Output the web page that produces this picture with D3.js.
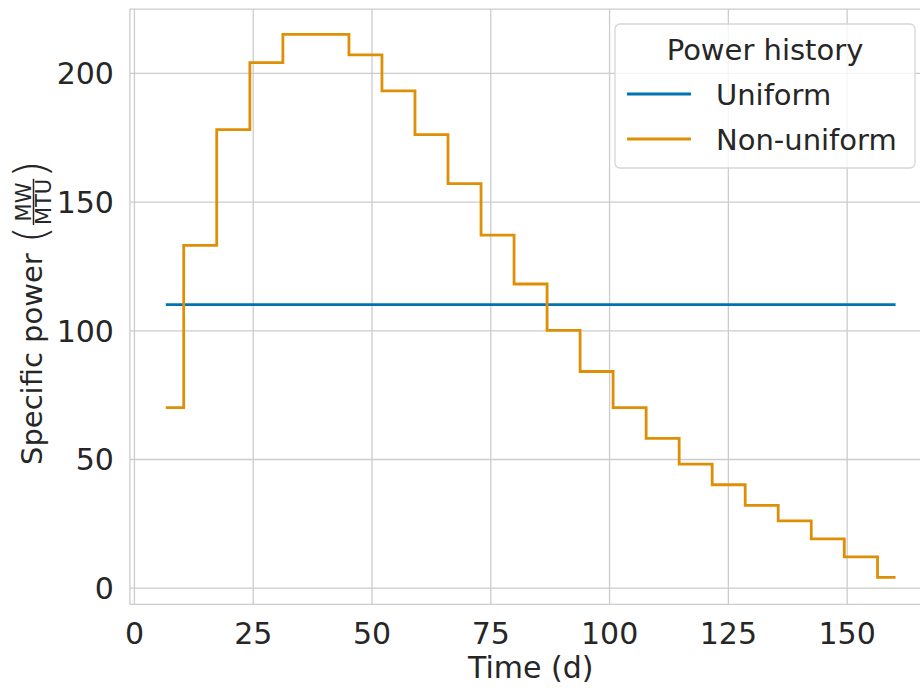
<!DOCTYPE html>
<html>
<head>
<meta charset="utf-8">
<script src="https://cdn.jsdelivr.net/npm/d3@7"></script>
<style>
  body { margin: 0; background: #fff; }
  svg { display: block; font-family: "DejaVu Sans", sans-serif; }
</style>
</head>
<body>
<svg id="chart" width="920" height="690"></svg>
<script>
// time points (d) and specific power (MW/MTU)
var timeDays = [7.0, 13.95, 20.9, 27.9, 34.8, 41.8, 48.7, 55.7, 62.6, 69.6, 76.5, 83.5,
	90.4, 97.4, 104.3, 111.3, 118.2, 125.2, 132.1, 139.1, 146.0, 153.0, 160.0];
var uniformPower = [110, 110, 110, 110, 110, 110, 110, 110, 110, 110, 110, 110,
	110, 110, 110, 110, 110, 110, 110, 110, 110, 110, 110];
var nonUniformPower = [70, 133, 178, 204, 215, 215, 207, 193, 176, 157, 137, 118,
	100, 84, 70, 58, 48, 40, 32, 26, 19, 12, 4];
var seriesNames = ["Uniform", "Non-uniform"];
var seriesColors = ["#0173b2", "#de8f05"];
var xTicks = [0, 25, 50, 75, 100, 125, 150];
var yTicks = [0, 50, 100, 150, 200];

var svg = d3.select("#chart");
var textColor = "#262626",
	gridColor = "#cccccc";

// plot box runs past the right edge of the picture, like the reference
var x = d3.scaleLinear().domain([-0.85, 167.9]).range([129.9, 931.7]);
var y = d3.scaleLinear().domain([-6.45, 224.8]).range([604.3, 9.1]);

svg.append("clipPath").attr("id", "plotclip")
	.append("rect")
	.attr("x", x.range()[0]).attr("y", y.range()[1])
	.attr("width", x.range()[1] - x.range()[0])
	.attr("height", y.range()[0] - y.range()[1]);

// grid
var xAxis = svg.append("g")
	.attr("transform", "translate(0," + y.range()[0] + ")")
	.call(d3.axisBottom(x).tickValues(xTicks).tickSize(-(y.range()[0] - y.range()[1])).tickPadding(40));
var yAxis = svg.append("g")
	.attr("transform", "translate(" + x.range()[0] + ",0)")
	.call(d3.axisLeft(y).tickValues(yTicks).tickSize(-(x.range()[1] - x.range()[0])).tickPadding(16));

[xAxis, yAxis].forEach(function(ax){
	ax.select(".domain").remove();
	ax.selectAll(".tick line").attr("stroke", gridColor).attr("stroke-width", 1.3);
	ax.selectAll(".tick text")
		.attr("fill", textColor)
		.style("font-size", "30px")
		.style("font-family", "'DejaVu Sans', sans-serif");
});
xAxis.selectAll(".tick text").attr("dy", null).attr("y", 40);
yAxis.selectAll(".tick text").attr("dy", "0.36em");

// spines
svg.append("path")
	.attr("d", "M" + x.range()[1] + "," + y.range()[1] + "H" + x.range()[0] + "V" + y.range()[0] + "H" + x.range()[1])
	.attr("fill", "none")
	.attr("stroke", gridColor)
	.attr("stroke-width", 1.3);

// lines
var plot = svg.append("g").attr("clip-path", "url(#plotclip)");

var stepLine = d3.line()
	.x(function(d) { return x(d[0]); })
	.y(function(d) { return y(d[1]); })
	.curve(d3.curveStep);

var uniformData = timeDays.map(function(t, i) { return [t, uniformPower[i]]; });
var nonUniformData = timeDays.map(function(t, i) { return [t, nonUniformPower[i]]; });

[uniformData, nonUniformData].forEach(function(data, i){
	plot.append("path")
		.datum(data)
		.attr("fill", "none")
		.attr("stroke", seriesColors[i])
		.attr("stroke-width", 2.8)
		.attr("stroke-linecap", "square")
		.attr("d", stepLine);
});

// x label
svg.append("text")
	.attr("x", (x.range()[0] + x.range()[1]) / 2)
	.attr("y", 678)
	.attr("text-anchor", "middle")
	.attr("fill", textColor)
	.style("font-size", "30px")
	.text("Time (d)");

// y label with the MW / MTU fraction
var yl = svg.append("g").attr("transform", "translate(42,465) rotate(-90)");
var mainText = yl.append("text")
	.attr("x", 0).attr("y", 0)
	.attr("fill", textColor)
	.style("font-size", "29px")
	.text("Specific power");
var mainLen = mainText.node().getComputedTextLength();

var lp = yl.append("text")
	.attr("x", mainLen + 10).attr("y", 4)
	.attr("fill", textColor)
	.style("font-size", "44px")
	.style("font-weight", 200)
	.text("(");
var lpLen = lp.node().getComputedTextLength();

var fracX = mainLen + 10 + lpLen + 1;
var num = yl.append("text")
	.attr("y", -11.5)
	.attr("fill", textColor)
	.style("font-size", "21px")
	.text("MW");
var den = yl.append("text")
	.attr("y", 9)
	.attr("fill", textColor)
	.style("font-size", "21px")
	.text("MTU");
var numLen = num.node().getComputedTextLength(),
	denLen = den.node().getComputedTextLength(),
	fracW = Math.max(numLen, denLen);
num.attr("x", fracX + (fracW - numLen) / 2);
den.attr("x", fracX + (fracW - denLen) / 2);
yl.append("line")
	.attr("x1", fracX).attr("x2", fracX + fracW)
	.attr("y1", -8.5).attr("y2", -8.5)
	.attr("stroke", textColor)
	.attr("stroke-width", 1.5);
yl.append("text")
	.attr("x", fracX + fracW + 1).attr("y", 4)
	.attr("fill", textColor)
	.style("font-size", "44px")
	.style("font-weight", 200)
	.text(")");

// legend
var legend = svg.append("g");
legend.append("rect")
	.attr("x", 615).attr("y", 24)
	.attr("width", 300).attr("height", 144)
	.attr("rx", 5)
	.attr("fill", "#ffffff").attr("fill-opacity", 0.8)
	.attr("stroke", "#d6d6d6").attr("stroke-width", 1.3);
legend.append("text")
	.attr("x", 765).attr("y", 60)
	.attr("text-anchor", "middle")
	.attr("fill", textColor)
	.style("font-size", "29px")
	.text("Power history");

seriesNames.forEach(function(name, i){
	var ly = 94 + i * 45;
	legend.append("line")
		.attr("x1", 627).attr("x2", 691)
		.attr("y1", ly).attr("y2", ly)
		.attr("stroke", seriesColors[i])
		.attr("stroke-width", 2.8);
	legend.append("text")
		.attr("x", 716).attr("y", ly + 11)
		.attr("fill", textColor)
		.style("font-size", "29px")
		.text(name);
});
</script>
</body>
</html>
